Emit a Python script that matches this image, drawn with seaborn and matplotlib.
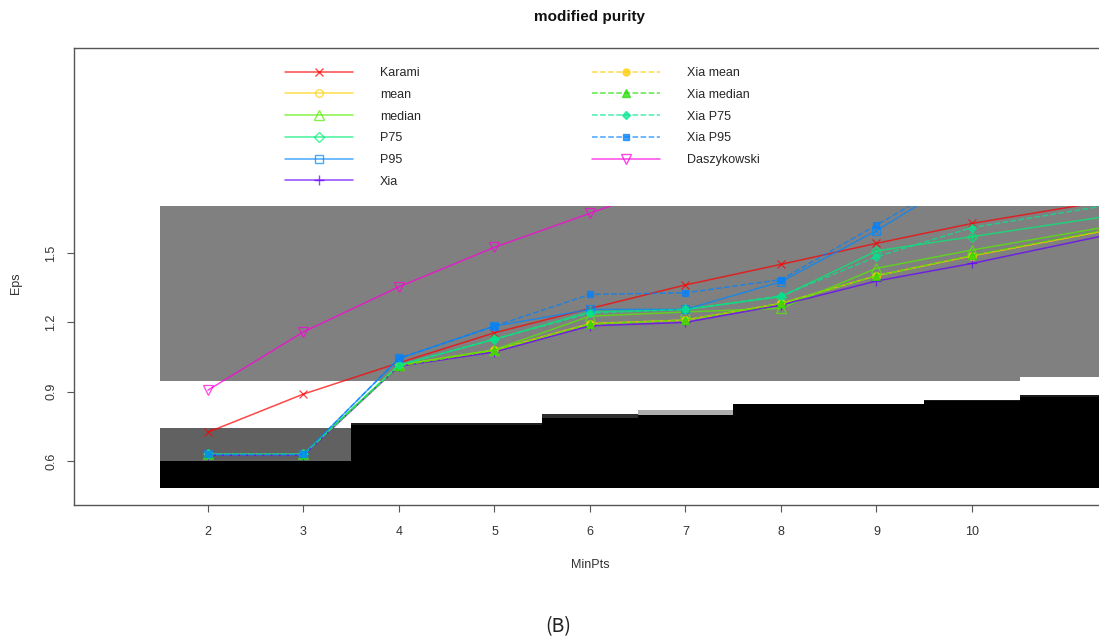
import numpy as np
import pandas as pd
import matplotlib
matplotlib.use("Agg")
import matplotlib.pyplot as plt
import seaborn as sns
from matplotlib.lines import Line2D
from matplotlib.patches import Rectangle

# ---------------- data ----------------
minpts = [2, 3, 4, 5, 6, 7, 8, 9, 10, 12]
tick_pos = [2, 3, 4, 5, 6, 7, 8, 9, 10]
tick_labels = ["2", "3", "4", "5", "6", "7", "8", "9", "10"]

karami      = [0.725, 0.890, 1.025, 1.155, 1.260, 1.362, 1.451, 1.542, 1.628, 1.766]
mean_v      = [0.629, 0.629, 1.015, 1.080, 1.195, 1.210, 1.282, 1.402, 1.488, 1.644]
median_v    = [0.629, 0.629, 1.015, 1.082, 1.227, 1.245, 1.261, 1.434, 1.513, 1.655]
p75         = [0.629, 0.629, 1.015, 1.127, 1.246, 1.256, 1.311, 1.509, 1.571, 1.695]
p95         = [0.629, 0.629, 1.044, 1.184, 1.256, 1.256, 1.376, 1.597, 1.850]
xia         = [0.625, 0.625, 1.010, 1.072, 1.185, 1.200, 1.275, 1.379, 1.455, 1.629]
xia_mean    = [0.629, 0.629, 1.012, 1.080, 1.193, 1.210, 1.282, 1.402, 1.488, 1.644]
xia_median  = [0.629, 0.629, 1.012, 1.080, 1.193, 1.210, 1.282, 1.402, 1.490, 1.648]
xia_p75     = [0.629, 0.629, 1.015, 1.127, 1.240, 1.256, 1.315, 1.484, 1.610, 1.746]
xia_p95     = [0.629, 0.629, 1.044, 1.184, 1.321, 1.328, 1.385, 1.621, 1.860]
daszykowski = [0.907, 1.159, 1.354, 1.525, 1.672, 1.820]

# background image cells (per MinPts column)
cells_x     = [2, 3, 4, 5, 6, 7, 8, 9, 10, 11]
gray_lo     = [0.946, 0.946, 0.946, 0.946, 0.946, 0.946, 0.946, 0.946, 0.946, 0.965]
gray_hi     = [1.703, 1.703, 1.703, 1.703, 1.703, 1.703, 1.703, 1.703, 1.703, 1.703]
black_lo    = [0.483] * 10
black_hi    = [0.600, 0.600, 0.755, 0.755, 0.785, 0.801, 0.846, 0.846, 0.860, 0.878]
shade_hi    = [0.744, 0.744, 0.763, 0.763, 0.805, 0.823, 0.846, 0.846, 0.866, 0.885]
shade_level = [0.38, 0.38, 0.12, 0.12, 0.18, 0.68, 0.0, 0.0, 0.10, 0.10]

# ---------------- figure ----------------
sns.set_theme(style="white")
plt.rcParams["font.family"] = ["Liberation Sans", "DejaVu Sans"]

W, H = 1099, 644
fig = plt.figure(figsize=(W / 100, H / 100), dpi=100)
ax = fig.add_axes([74 / W, (H - 505) / H, (W - 74) / W, 457 / H])
ax.set_xlim(0.597, 11.33)
ax.set_ylim(0.410, 2.387)

# background blocks
ax.bar(cells_x, np.array(gray_hi) - np.array(gray_lo), bottom=gray_lo, width=1.0,
       color="#808080", linewidth=0, zorder=1)
shade_cols = [str(v) for v in shade_level]
ax.bar(cells_x, np.array(shade_hi) - np.array(black_hi), bottom=black_hi, width=1.0,
       color=shade_cols, linewidth=0, zorder=1)
ax.bar(cells_x, np.array(black_hi) - np.array(black_lo), bottom=black_lo, width=1.0,
       color="#000000", linewidth=0, zorder=1)

marker_size = {("x", "none"): 5.5, ("o", "none"): 5.5, ("^", "none"): 6.5,
               ("D", "none"): 5.0, ("s", "none"): 5.5, ("+", "none"): 6.5,
               ("v", "none"): 6.5, ("o", "fill"): 5.0, ("^", "fill"): 5.5,
               ("D", "fill"): 4.2, ("s", "fill"): 5.0}

series = [
    ("Karami",      karami,      "#FF0000", "-",  "x", "none"),
    ("mean",        mean_v,      "#FFD000", "-",  "o", "none"),
    ("median",      median_v,    "#55EE00", "-",  "^", "none"),
    ("P75",         p75,         "#00EE77", "-",  "D", "none"),
    ("P95",         p95,         "#0088FF", "-",  "s", "none"),
    ("Xia",         xia,         "#6600FF", "-",  "+", "none"),
    ("Xia mean",    xia_mean,    "#FFCC00", "--", "o", "fill"),
    ("Xia median",  xia_median,  "#22DD00", "--", "^", "fill"),
    ("Xia P75",     xia_p75,     "#00E890", "--", "D", "fill"),
    ("Xia P95",     xia_p95,     "#0080FF", "--", "s", "fill"),
    ("Daszykowski", daszykowski, "#FF00DD", "-",  "v", "none"),
]

clip = Rectangle((0, 0), 20, 1.703, transform=ax.transData)
handles = []
for name, vals, col, ls, mk, fill in series:
    xs = minpts[:len(vals)]
    ms = marker_size[(mk, fill)]
    mfc = col if fill == "fill" else "none"
    sns.lineplot(x=xs, y=vals, ax=ax, color=col, linestyle=ls, linewidth=1.1,
                 marker=mk, markersize=ms, markerfacecolor=mfc,
                 markeredgecolor=col, markeredgewidth=0.9, alpha=0.72,
                 zorder=3, errorbar=None)
    extra = None
    if name == "P75":
        extra = "+"
    elif name == "P95":
        extra = "x"
    if extra:
        sns.lineplot(x=xs, y=vals, ax=ax, color=col, linestyle="", marker=extra,
                     markersize=4.0, markeredgecolor=col, markeredgewidth=0.9,
                     alpha=0.72, zorder=3, errorbar=None)
    handles.append(Line2D([], [], color=col, linestyle=ls, linewidth=1.1,
                          marker=mk, markersize=ms, markerfacecolor=mfc,
                          markeredgecolor=col, alpha=0.72, label=name))

for ln in ax.lines:
    ln.set_clip_path(clip)

leg_kw = dict(loc="upper left", bbox_transform=fig.transFigure, frameon=False,
              fontsize=9, handlelength=5.4, handletextpad=2.2,
              labelspacing=0.78, borderpad=0, borderaxespad=0)
leg1 = ax.legend(handles=handles[:6], bbox_to_anchor=(285 / W, 1 - 67 / H), **leg_kw)
ax.add_artist(leg1)
ax.legend(handles=handles[6:], bbox_to_anchor=(592 / W, 1 - 67 / H), **leg_kw)

# axes styling
for s in ["left", "top", "bottom"]:
    ax.spines[s].set_visible(True)
    ax.spines[s].set_color("#555555")
    ax.spines[s].set_linewidth(1.0)
ax.spines["right"].set_visible(False)

ax.set_xticks(tick_pos)
ax.set_xticklabels(tick_labels)
ax.set_yticks([0.6, 0.9, 1.2, 1.5])
ax.set_yticklabels(["0.6", "0.9", "1.2", "1.5"])
ax.tick_params(axis="both", which="both", direction="out", length=5, width=0.8,
               color="#555555", labelsize=9, labelcolor="#333333",
               bottom=True, left=True)
ax.tick_params(axis="x", pad=10)
ax.tick_params(axis="y", pad=7)
for lbl in ax.get_yticklabels():
    lbl.set_rotation(90)
    lbl.set_va("center")
    lbl.set_ha("right")
ax.grid(False)

ax.set_xlabel("MinPts", fontsize=9, color="#333333")
ax.set_ylabel("Eps", fontsize=9, color="#333333")
ax.xaxis.label.set_va("center")
ax.yaxis.label.set_va("center")
ax.xaxis.set_label_coords((590 - 74) / (W - 74), -(565 - 505) / 457)
ax.yaxis.set_label_coords((16 - 74) / (W - 74), (505 - 283) / 457)

fig.text(590 / W, 1 - 17 / H, "modified purity", ha="center", va="center",
         fontsize=11, fontweight="bold", color="#111111")
fig.text(558 / W, 1 - 627 / H, "(B)", ha="center", va="center", fontsize=14,
         color="#222222", family=["Noto Sans CJK SC", "DejaVu Sans"], fontweight="light")

fig.savefig("out.png", dpi=100)
